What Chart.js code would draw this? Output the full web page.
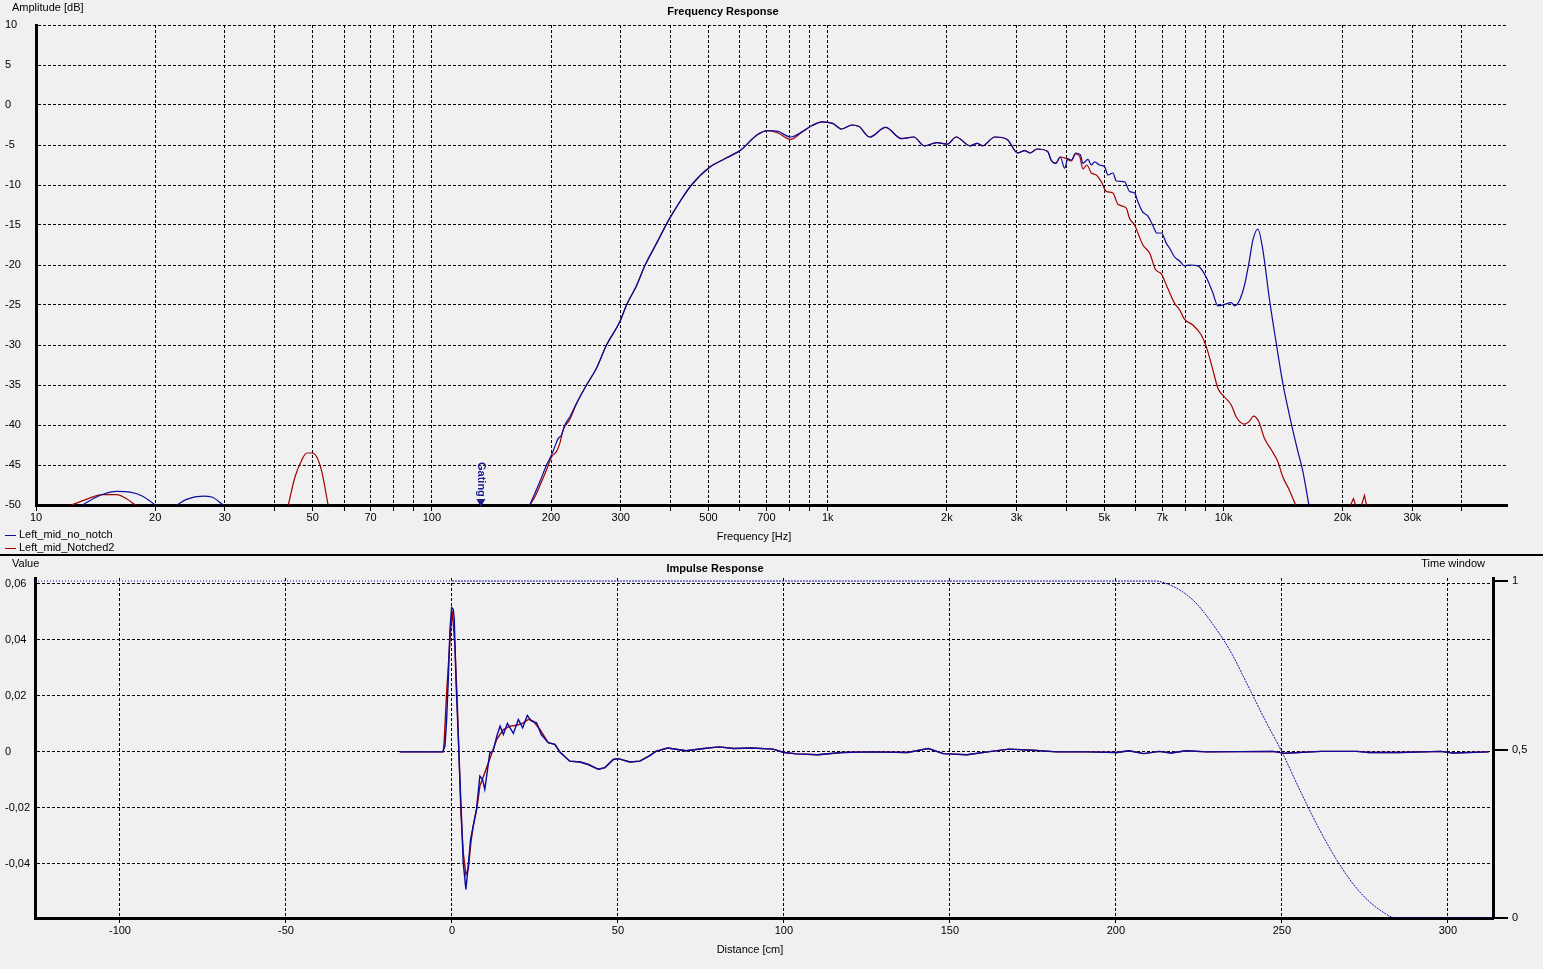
<!DOCTYPE html>
<html lang="en">
<head>
<meta charset="UTF-8">
<title>Frequency / Impulse Response</title>
<script src="https://cdn.jsdelivr.net/npm/chart.js"></script>
<style>
  body { margin: 0; background: #f0f0f0; font-family: "Liberation Sans", Arial, sans-serif; font-size: 11px; color: #000; }
  #page { position: relative; width: 1543px; height: 969px; overflow: hidden; }
  canvas { position: absolute; left: 0; }
  #freqCanvas { top: 0; }
  #impCanvas { top: 557px; }
  .lbl { position: absolute; white-space: nowrap; line-height: 13px; z-index: 2; }
  .mid { transform: translateX(-50%); }
  .title { font-weight: bold; }
  .sep { position: absolute; left: 0; width: 1543px; top: 554px; height: 2px; background: #000; z-index: 2; }
  .legend-row i { display: inline-block; width: 11px; height: 1px; vertical-align: middle; margin-right: 3px; }
</style>
</head>
<body>
<div id="page">
  <canvas id="freqCanvas" width="1543" height="555"></canvas>
  <canvas id="impCanvas" width="1543" height="412"></canvas>

  <div class="lbl" style="left:12px; top:1px;">Amplitude [dB]</div>
  <div class="lbl title mid" style="left:723px; top:5px;">Frequency Response</div>
  <div class="lbl mid" style="left:754px; top:530px;">Frequency [Hz]</div>
  <div class="lbl legend-row" style="left:5px; top:528px;"><i style="background:#0b0b9e"></i>Left_mid_no_notch</div>
  <div class="lbl legend-row" style="left:5px; top:541px;"><i style="background:#a30000"></i>Left_mid_Notched2</div>
  <div class="sep"></div>
  <div class="lbl" style="left:12px; top:557px;">Value</div>
  <div class="lbl title mid" style="left:715px; top:562px;">Impulse Response</div>
  <div class="lbl" style="right:58px; top:557px;">Time window</div>
  <div class="lbl mid" style="left:750px; top:943px;">Distance [cm]</div>
</div>

<script>
// ---- frequency response data (Hz, dB) ----
const freqGrid = [10, 20, 30, 40, 50, 60, 70, 80, 90,
  100, 200, 300, 400, 500, 600, 700, 800, 900,
  1000, 2000, 3000, 4000, 5000, 6000, 7000, 8000, 9000,
  10000, 20000, 30000, 40000];
const freqTickValues = [10, 20, 30, 50, 70, 100, 200, 300, 500, 700, 1000, 2000, 3000, 5000, 7000, 10000, 20000, 30000];
const freqTickLabels = ['10', '20', '30', '50', '70', '100', '200', '300', '500', '700', '1k', '2k', '3k', '5k', '7k', '10k', '20k', '30k'];
const dbTicks = [-50, -45, -40, -35, -30, -25, -20, -15, -10, -5, 0, 5, 10];
const gatingHz = 133;

const blueBump1Hz = [13.1, 14.1, 14.9, 16.0, 17.3, 18.6, 20.0];
const blueBump1Db = [-50, -49.1, -48.6, -48.3, -48.4, -48.9, -50];
const blueBump2Hz = [22.7, 24.0, 26.4, 27.8, 29.7];
const blueBump2Db = [-50, -49.3, -48.9, -49.0, -50];
const redBump1Hz = [12.3, 13.4, 14.7, 16.0, 16.9, 17.8];
const redBump1Db = [-50, -49.3, -48.7, -48.7, -49.2, -50];
const redBump2Hz = [43.4, 45.1, 46.9, 48.3, 49.7, 51.2, 52.7, 54.7];
const redBump2Db = [-50, -46.5, -44.4, -43.5, -43.5, -44.0, -45.8, -50];

const blueRiseHz = [176.8, 187.4, 194.9, 200.6, 204.5, 208.4, 212.6, 216.7, 223.1];
const blueRiseDb = [-50, -47.1, -45.0, -43.75, -42.7, -41.7, -41.25, -40.0, -39.0];
const redRiseHz = [176.8, 182.0, 189.2, 194.9, 200.6, 206.5, 210.5, 214.6, 223.1];
const redRiseDb = [-50, -49.0, -47.1, -45.6, -44.0, -43.3, -42.3, -40.6, -39.3];

const sharedAHz = [232, 245.9, 260.5, 276.2, 298.4, 310.3, 328.8, 345.1, 369.4, 397.4, 423, 452.7, 502.3, 551, 604.3, 662.4, 704.7];
const sharedADb = [-37.3, -35.0, -32.9, -30.0, -27.1, -25.0, -22.6, -20.1, -17.3, -14.3, -12.1, -10.0, -7.8, -6.7, -5.6, -3.75, -3.2];

const kneeHz = [749.4, 805];
const blueKneeDb = [-3.3, -4.0];
const redKneeDb = [-3.5, -4.3];

const sharedBHz = [864.9, 910.8, 967.9, 1029, 1083, 1152, 1200, 1277, 1400, 1535, 1649, 1754, 1885, 2005, 2110,
  2289, 2385, 2460, 2644, 2840, 3020, 3146, 3244, 3381, 3594, 3668, 3765, 3869];
const sharedBDb = [-3.3, -2.6, -2.1, -2.3, -3.0, -2.5, -2.7, -4.0, -2.8, -4.2, -4.0, -5.1, -4.7, -4.9, -4.0,
  -5.1, -4.8, -5.1, -4.0, -4.3, -6.0, -5.7, -6.0, -5.5, -5.8, -6.9, -7.3, -6.5];

const blueTopHz = [3967, 4044, 4125, 4230, 4347, 4413, 4543, 4634, 4723, 4863, 5006, 5103, 5254, 5359, 5623, 5789,
  5961, 6076, 6233, 6441, 6632, 6788, 6964, 7169, 7307, 7522, 7744, 7971, 8206, 8611, 8866, 9075, 9397, 9674,
  9959, 10457, 10660, 10975, 11298, 11585, 11858, 12207, 12566, 13068, 13588, 14118, 14825, 15405, 15861, 16423];
const blueTopDb = [-7.9, -6.7, -6.9, -6.0, -6.2, -7.3, -6.8, -7.5, -7.1, -7.5, -7.7, -8.75, -8.5, -9.5, -9.6, -10.8,
  -11.0, -12.1, -13.3, -13.9, -15.1, -16.0, -16.0, -17.3, -17.9, -19.0, -19.5, -20.1, -20.0, -20.1, -20.8, -21.7, -23.5, -25.1,
  -25.0, -24.7, -25.1, -24.4, -22.5, -19.8, -16.9, -15.5, -18.1, -24.4, -29.8, -34.8, -39.8, -43.3, -45.8, -50];

const redTopHz = [4007, 4125, 4230, 4329, 4413, 4516, 4634, 4770, 4911, 5056, 5254, 5408, 5679, 5789, 5961, 6076,
  6255, 6504, 6737, 6964, 7169, 7522, 7744, 7971, 8366, 8785, 9043, 9397, 9674, 10057, 10457, 10767, 11298, 11633,
  11907, 12277, 12691, 13198, 13714, 14118, 14619, 15201];
const redTopDb = [-6.7, -7.0, -6.1, -6.4, -8.0, -7.5, -8.5, -8.75, -9.6, -10.8, -11.0, -12.4, -12.9, -14.2, -15.0, -16.0,
  -17.5, -18.5, -20.6, -21.1, -22.5, -24.8, -25.6, -26.8, -27.5, -28.75, -30.2, -33.1, -35.4, -36.5, -37.5, -39.0, -39.9, -39.5,
  -38.9, -39.6, -41.7, -43.1, -44.6, -46.5, -48.0, -50];
const redSpike1Hz = [20925, 21294, 21544];
const redSpike1Db = [-50, -49.2, -50];
const redSpike2Hz = [22311, 22699, 22963];
const redSpike2Db = [-50, -48.8, -50];

// ---- impulse response data (cm, value) ----
const distTicks = [-100, -50, 0, 50, 100, 150, 200, 250, 300];
const valueTicks = [-0.04, -0.02, 0, 0.02, 0.04, 0.06];
const windowTicks = [0, 0.5, 1];

const blueImpHeadCm = [-15.7, -2.8, -2.1, -1.6, -1.1, -0.6, -0.1, 0.4, 0.7, 1.2, 1.9, 2.4, 2.9, 3.4, 4.2, 4.9, 5.6, 6.4,
  7.4, 8.4, 9.2, 9.9, 10.6, 11.4, 12.4, 13.5, 14.5, 15.5, 16.7, 18.5, 20, 21.3, 22.7, 24, 25.5, 26.9];
const blueImpHeadVal = [0, 0, 0.0021, 0.0116, 0.0259, 0.0438, 0.0515, 0.0509, 0.0473, 0.0259, 0.0056, -0.0098, -0.0241, -0.0396,
  -0.0491, -0.0408, -0.0313, -0.0265, -0.0205, -0.0086, -0.0098, -0.0134, -0.0074, -0.0003, 0.0003, 0.0056, 0.0092, 0.0062,
  0.0102, 0.0066, 0.0116, 0.0086, 0.013, 0.011, 0.0104, 0.0062];
const redImpHeadCm = [-15.7, -2.6, -2.3, -1.6, -0.9, -0.4, 0.1, 0.9, 1.6, 2.2, 2.7, 3.4, 4.2, 4.9, 5.7, 6.4, 7.6, 8.4,
  9.9, 11.4, 13.5, 15.5, 17.5, 19.5, 21.5, 23, 24.5, 26.5];
const redImpHeadVal = [0, 0, 0.0045, 0.0211, 0.0342, 0.0438, 0.0503, 0.0378, 0.0176, -0.0039, -0.0217, -0.036, -0.0438,
  -0.042, -0.0324, -0.0265, -0.0194, -0.0122, -0.0074, -0.0024, 0.0045, 0.008, 0.0092, 0.0095, 0.0104, 0.0116, 0.011, 0.008];
const impTailCm = [29, 31, 32.5, 35.5, 38.6, 41.1, 44.1, 46.1, 48.6, 50.1, 53.6, 56.6, 59.6, 61.4, 65, 70.5, 75.9, 80.4,
  84.9, 90.3, 96.7, 100, 103.9, 110.2, 117.5, 126.4, 137.2, 143.5, 148, 155.1, 162.5, 167.8, 175, 182.2, 191.3, 200.3,
  203.9, 208.4, 213, 216.6, 221.1, 227.4, 247.3, 250.9, 261.7, 272.6, 276.2, 285.2, 297.9, 301.5, 312.3];
const impTailVal = [0.0033, 0.0027, 0, -0.0033, -0.0036, -0.0045, -0.0062, -0.0056, -0.0027, -0.0024, -0.0036, -0.0033,
  -0.0013, 0.0002, 0.0014, 0.0004, 0.0012, 0.0018, 0.0012, 0.0014, 0.001, -0.0002, -0.0007, -0.001, -0.0002, 0, -0.0002,
  0.0012, -0.0006, -0.001, 0.0002, 0.001, 0.0006, 0, 0, -0.0002, 0.0004, -0.0006, 0.0002, -0.0004, 0.0004, 0, 0.0002,
  -0.0005, 0.0002, 0.0002, -0.0002, -0.0002, 0.0002, -0.0004, 0];

const windowCm = [-125.6, 0, 212, 214.8, 219.3, 223.8, 228.3, 234.3, 240.4, 244.9, 250, 255.4, 261.4, 267.5, 273.5, 279.5, 284.6, 313.6];
const windowVal = [1, 1, 1, 0.994, 0.973, 0.938, 0.884, 0.795, 0.677, 0.588, 0.493, 0.380, 0.261, 0.157, 0.077, 0.024, 0, 0];

const BLUE = '#0b0b9e';
const RED = '#a30000';

Chart.defaults.font.family = '"Liberation Sans", Arial, sans-serif';
Chart.defaults.font.size = 11;
Chart.defaults.color = '#000';

const pts = (xs, ys) => xs.map((x, i) => ({ x: x, y: ys[i] }));
const comma = v => String(Math.round(v * 1000) / 1000).replace('.', ',');

function line(data, color, width, axis) {
  return { data: data, borderColor: color, borderWidth: width, pointRadius: 0, tension: 0, fill: false, yAxisID: axis || 'y' };
}
function smooth(ds) {
  ds.cubicInterpolationMode = 'monotone';
  return ds;
}

// blue first so it is drawn on top
const freqSets = [
  smooth(line(pts(blueBump1Hz, blueBump1Db), BLUE, 1.2)),
  smooth(line(pts(blueBump2Hz, blueBump2Db), BLUE, 1.2)),
  smooth(line(pts([...blueRiseHz, ...sharedAHz, ...kneeHz, ...sharedBHz, ...blueTopHz],
           [...blueRiseDb, ...sharedADb, ...blueKneeDb, ...sharedBDb, ...blueTopDb]), BLUE, 1.2)),
  smooth(line(pts(redBump1Hz, redBump1Db), RED, 1.2)),
  smooth(line(pts(redBump2Hz, redBump2Db), RED, 1.2)),
  smooth(line(pts([...redRiseHz, ...sharedAHz, ...kneeHz, ...sharedBHz, ...redTopHz],
           [...redRiseDb, ...sharedADb, ...redKneeDb, ...sharedBDb, ...redTopDb]), RED, 1.2)),
  line(pts(redSpike1Hz, redSpike1Db), RED, 1.2),
  line(pts(redSpike2Hz, redSpike2Db), RED, 1.2)
];

const gatingPlugin = {
  id: 'gating',
  afterDatasetsDraw(chart) {
    const { ctx, chartArea, scales } = chart;
    const x = scales.x.getPixelForValue(gatingHz);
    const b = chartArea.bottom;
    ctx.save();
    ctx.fillStyle = '#1c1c8c';
    ctx.beginPath();
    ctx.moveTo(x - 4.5, b - 6);
    ctx.lineTo(x + 4.5, b - 6);
    ctx.lineTo(x, b + 2);
    ctx.closePath();
    ctx.fill();
    ctx.translate(x, b - 43);
    ctx.rotate(Math.PI / 2);
    ctx.font = 'bold 11px "Liberation Sans", Arial, sans-serif';
    ctx.textBaseline = 'middle';
    ctx.fillText('Gating', 0, 0);
    ctx.restore();
  }
};

new Chart(document.getElementById('freqCanvas'), {
  type: 'line',
  data: { datasets: freqSets },
  options: {
    responsive: false,
    animation: false,
    layout: { padding: { left: 5, right: 36, top: 25, bottom: 0 } },
    plugins: { legend: { display: false }, tooltip: { enabled: false } },
    scales: {
      x: {
        type: 'logarithmic', min: 10, max: 52000,
        afterBuildTicks: s => { s.ticks = freqGrid.map(v => ({ value: v })); },
        afterFit: s => { s.height = 50; },
        ticks: {
          autoSkip: false, maxRotation: 0, minRotation: 0, padding: 0,
          callback: v => { const i = freqTickValues.indexOf(v); return i >= 0 ? freqTickLabels[i] : ''; }
        },
        grid: { color: '#000', lineWidth: 1, tickLength: 6 },
        border: { display: true, color: '#000', width: 3, dash: [3, 2] }
      },
      y: {
        min: -50, max: 10,
        afterBuildTicks: s => { s.ticks = dbTicks.map(v => ({ value: v })); },
        afterFit: s => { s.width = 31; },
        ticks: { crossAlign: 'far', padding: 0 },
        grid: { color: '#000', lineWidth: 1, drawTicks: false },
        border: { display: true, color: '#000', width: 3, dash: [3, 2] }
      }
    }
  },
  plugins: [gatingPlugin]
});

new Chart(document.getElementById('impCanvas'), {
  type: 'line',
  data: {
    datasets: [
      line(pts([...blueImpHeadCm, ...impTailCm], [...blueImpHeadVal, ...impTailVal]), BLUE, 1.4),
      line(pts([...redImpHeadCm, ...impTailCm], [...redImpHeadVal, ...impTailVal]), RED, 1.4),
      Object.assign(line(pts(windowCm, windowVal), '#1010a8', 1, 'y2'), {
        cubicInterpolationMode: 'monotone',
        segment: { borderDash: c => c.p0.parsed.x < 0 ? [1, 2] : [2, 1] }
      })
    ]
  },
  options: {
    responsive: false,
    animation: false,
    layout: { padding: { left: 5, right: 0, top: 21, bottom: 0 } },
    plugins: { legend: { display: false }, tooltip: { enabled: false } },
    scales: {
      x: {
        type: 'linear', min: -125.6, max: 313.6,
        afterBuildTicks: s => { s.ticks = distTicks.map(v => ({ value: v })); },
        afterFit: s => { s.height = 51; },
        ticks: { autoSkip: false, maxRotation: 0, padding: 1 },
        grid: { color: '#000', lineWidth: 1, tickLength: 5 },
        border: { display: true, color: '#000', width: 3, dash: [3, 2] }
      },
      y: {
        min: -0.0593, max: 0.0621,
        afterBuildTicks: s => { s.ticks = valueTicks.map(v => ({ value: v })); },
        afterFit: s => { s.width = 30; },
        ticks: { crossAlign: 'far', padding: 0, callback: v => comma(v) },
        grid: { color: '#000', lineWidth: 1, drawTicks: false },
        border: { display: true, color: '#000', width: 3, dash: [3, 2] }
      },
      y2: {
        position: 'right', min: 0, max: 1.009,
        afterBuildTicks: s => { s.ticks = windowTicks.map(v => ({ value: v })); },
        afterFit: s => { s.width = 50; },
        ticks: { padding: 4, callback: v => comma(v) },
        grid: { drawOnChartArea: false, color: '#000', lineWidth: 2, tickLength: 15 },
        border: { display: true, color: '#000', width: 3 }
      }
    }
  }
});
</script>
</body>
</html>
